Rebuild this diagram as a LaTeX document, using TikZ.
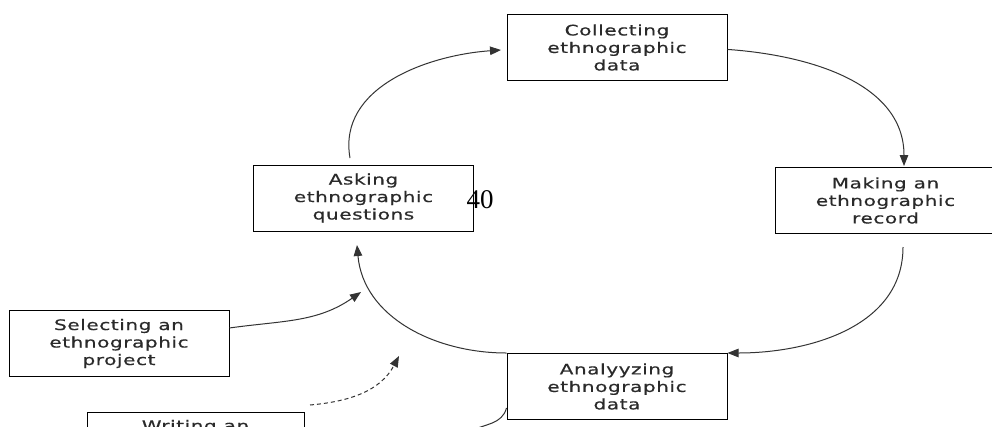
\documentclass[tikz,border=0pt]{standalone}
\usepackage{fontspec}
\setmainfont{DejaVu Sans}[FakeStretch=1.38,LetterSpace=4,FakeBold=0.5]
\newfontfamily\pgfont{Liberation Serif}
\usetikzlibrary{arrows.meta,calc}
\definecolor{txt}{HTML}{2A2A2A}
\definecolor{lin}{HTML}{333333}
\tikzset{
  stepbox/.style={draw=black, line width=1pt, minimum width=220pt, minimum height=66pt,
    align=center, inner sep=0pt, text=txt, font=\fontsize{14.5}{17.5}\selectfont},
  flow/.style={draw=lin, line width=1pt, -{Triangle[length=11pt,width=8.5pt]}},
  flowdash/.style={flow, dash pattern=on 4pt off 3pt},
  plain/.style={draw=lin, line width=1pt}
}
\begin{document}
\begin{tikzpicture}[x=1pt,y=-1pt]
\useasboundingbox (0,0) rectangle (992,426);
\clip (0,0) rectangle (992,426);
\fill[white] (0,0) rectangle (992,426);

\node[stepbox] (collect) at (617,47.5) {Collecting\\ethnographic\\data};
\node[stepbox] (make) at (885.5,200.5) {Making an\\ethnographic\\record};
\node[stepbox] (ask) at (363.5,198) {Asking\\ethnographic\\questions};
\node[stepbox] (sel) at (119,343.5) {Selecting an\\ethnographic\\project};
\node[stepbox] (ana) at (617,386.5) {Analyyzing\\ethnographic\\data};
\node[stepbox, anchor=north, minimum width=217pt] (write) at (195.5,412) {Writing an\\\strut\\\strut};

\node[font=\pgfont\fontsize{27}{27}\selectfont, inner sep=0pt] (page) at (480,200) {40};

\coordinate (t1) at (904,166);
\coordinate (m0) at (903,247);
\coordinate (t3) at (357,245);
\coordinate (a0) at (350,158);
\coordinate (t4) at (501,50);
\coordinate (t5) at (361,292);
\coordinate (d0) at (310,405);
\coordinate (t6) at (399,356);
\coordinate (b1) at (470,431);

\draw[flow] (collect.-1) to[out=-4,in=90] (t1);
\draw[flow] (m0) to[out=-90,in=0] (ana.north east);
\draw[flow] (ana.north west) to[out=180,in=-85] (t3);
\draw[flow] (a0) to[out=100,in=184] (t4);
\draw[flow] (sel.8) to[out=8,in=-145] (t5);
\draw[flowdash] (d0) to[out=5,in=-118] (t6);
\draw[plain] (ana.191) to[out=-105,in=25] (b1);
\end{tikzpicture}
\end{document}
